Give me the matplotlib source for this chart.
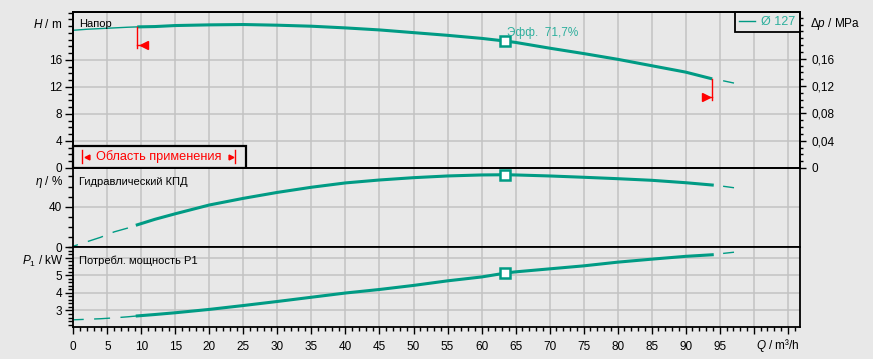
# Pump curve sheet: head / efficiency / power input over flow rate
import numpy as np
import matplotlib.pyplot as plt
from matplotlib.lines import Line2D
from matplotlib.patches import Rectangle

plt.rcParams['font.family'] = ['Liberation Sans', 'DejaVu Sans']
plt.rcParams['font.size'] = 8.5
plt.rcParams['mathtext.fontset'] = 'custom'
plt.rcParams['mathtext.rm'] = 'Liberation Sans'
plt.rcParams['mathtext.it'] = 'Liberation Sans:italic'

BG = '#e8e8e8'
TEAL = '#009b84'
TEAL_TXT = '#2eaf9d'
GRID = '#c3c3c3'

# --- data ---
# part below the application range (thin)
q_lo = [0, 2, 4, 6, 8, 9.4]
h_lo = [20.4, 20.55, 20.65, 20.75, 20.85, 20.9]
eta_lo = [0.8, 5.2, 9.6, 15.0, 18.8, 22.0]
p_lo = [2.47, 2.50, 2.53, 2.58, 2.64, 2.69]

# application range (thick)
q = [9.4, 12, 15, 20, 25, 30, 35, 40, 45, 50, 55, 60, 63.5, 65, 70, 75, 80, 85, 90, 93.9]
h = [20.9, 20.95, 21.1, 21.2, 21.25, 21.15, 21.0, 20.75, 20.45, 20.05,
     19.65, 19.2, 18.8, 18.6, 17.75, 16.95, 16.1, 15.15, 14.2, 13.2]
eta = [22.0, 27.5, 33.0, 41.7, 48.3, 54.2, 59.3, 63.6, 66.5, 68.8,
       70.5, 71.5, 71.7, 71.5, 70.5, 69.2, 67.8, 66.2, 63.8, 61.5]
p1 = [2.69, 2.77, 2.87, 3.06, 3.28, 3.51, 3.75, 3.99, 4.19, 4.42,
      4.68, 4.90, 5.12, 5.19, 5.36, 5.53, 5.74, 5.91, 6.07, 6.16]

# short piece past the end
q_ext = [95.6, 97.0]
h_ext = [12.9, 12.6]
eta_ext = [60.2, 58.9]
p_ext = [6.24, 6.30]

# duty point (best efficiency)
q_bep, h_bep, eta_bep, p_bep = 63.5, 18.8, 71.7, 5.12
q_min, q_max = 9.4, 93.9

W, H = 873, 359
def fx(x): return x / W
def fy(y): return 1 - y / H

fig = plt.figure(figsize=(W / 100, H / 100), dpi=100, facecolor=BG)
x0, x1 = 73.3, 800
ax1 = fig.add_axes([fx(x0), fy(168), fx(x1) - fx(x0), fy(11.7) - fy(168)])
ax2 = fig.add_axes([fx(x0), fy(247), fx(x1) - fx(x0), fy(168) - fy(247)])
ax3 = fig.add_axes([fx(x0), fy(326.5), fx(x1) - fx(x0), fy(247) - fy(326.5)])

for ax in (ax1, ax2, ax3):
    ax.set_facecolor(BG)
    ax.set_xlim(0, 106.8)
    ax.set_xticks(np.arange(0, 106, 5))
    ax.set_xticks(np.arange(0, 107, 1), minor=True)
    ax.grid(True, which='major', color=GRID, lw=1.1)
    ax.set_axisbelow(True)
    for s in ax.spines.values():
        s.set_color('black')
        s.set_linewidth(1.3)
    ax.tick_params(axis='y', which='major', direction='out', length=6, width=1, pad=1.9)
    ax.tick_params(axis='y', which='minor', direction='out', length=3.6, width=1)
    ax.tick_params(axis='y', right=False)

for ax in (ax1, ax2):
    ax.tick_params(axis='x', which='both', length=0, labelbottom=False)

ax3.tick_params(axis='x', which='major', direction='out', length=5, width=1, pad=5.5)
ax3.tick_params(axis='x', which='minor', direction='out', length=3.1, width=1)
ax3.set_xticklabels([str(v) if v <= 95 else '' for v in range(0, 106, 5)])

# head
ax1.set_ylim(0, 23.15)
ax1.set_yticks([0, 4, 8, 12, 16])
ax1.set_yticks(np.arange(0, 24, 1), minor=True)
ax1.plot(q_lo, h_lo, color=TEAL, lw=1.0)
ax1.plot(q, h, color=TEAL, lw=2.2, solid_capstyle='butt')
ax1.plot(q_ext, h_ext, color=TEAL, lw=1.0)
ax1.plot(q_bep, h_bep, 's', ms=6.5, mfc='white', mec=TEAL, mew=1.8)
ax1.text(q_bep + 0.2, 20.0, 'Эфф.  71,7%', color=TEAL_TXT, va='center', ha='left')

# application range markers
ax1.plot([q_min, q_min], [np.interp(q_min, q, h), 17.7], color='red', lw=1)
ax1.plot([q_min, q_min + 0.6], [18.2, 18.2], color='red', lw=1)
ax1.plot(q_min + 0.95, 18.2, '<', color='red', ms=6)
ax1.plot([q_max, q_max], [np.interp(q_max, q, h), 10.1], color='red', lw=1)
ax1.plot([q_max - 0.6, q_max], [10.5, 10.5], color='red', lw=1)
ax1.plot(q_max - 0.95, 10.5, '>', color='red', ms=6)

box = Rectangle((0, 0), 173 / 726.7, 22 / 156.3, transform=ax1.transAxes,
                facecolor=BG, edgecolor='black', lw=1.6, zorder=5, clip_on=False)
ax1.add_patch(box)
bx = lambda px: (px - x0) / 726.7
ax1.plot([bx(82), bx(82)], [0.03, 0.115], color='red', lw=1, transform=ax1.transAxes, zorder=6)
ax1.plot([bx(235), bx(235)], [0.03, 0.115], color='red', lw=1, transform=ax1.transAxes, zorder=6)
ax1.plot(bx(86.5), 0.072, '<', color='red', ms=3.5, transform=ax1.transAxes, zorder=6)
ax1.plot(bx(230.5), 0.072, '>', color='red', ms=3.5, transform=ax1.transAxes, zorder=6)
ax1.text(bx(159), 0.072, 'Область применения', color='red', ha='center', va='center',
         transform=ax1.transAxes, zorder=6, fontsize=9.2)

leg = ax1.legend([Line2D([], [], color=TEAL, lw=1)], ['Ø 127'], loc='upper right',
                 frameon=True, fancybox=False, edgecolor='black', facecolor=BG,
                 framealpha=1, borderaxespad=0, handlelength=1.3, handletextpad=0.5,
                 borderpad=0.35, labelcolor=TEAL_TXT, fontsize=9)
leg.get_frame().set_linewidth(1.3)

axr = ax1.twinx()
axr.set_ylim(0, 0.229)
axr.set_yticks([0, 0.04, 0.08, 0.12, 0.16])
axr.set_yticklabels(['0', '0,04', '0,08', '0,12', '0,16'])
axr.set_yticks(np.arange(0, 0.23, 0.01), minor=True)
axr.tick_params(axis='y', which='major', direction='out', length=4, width=1, pad=4)
axr.tick_params(axis='y', which='minor', direction='out', length=2.5, width=1)
for s in axr.spines.values():
    s.set_linewidth(1.3)

# efficiency
ax2.set_ylim(0, 78.4)
ax2.set_yticks([0, 40])
ax2.set_yticks(np.arange(0, 79, 10), minor=True)
ax2.plot(q_lo, eta_lo, color=TEAL, lw=1.0, linestyle=(8, (11.5, 7.5)))
ax2.plot(q, eta, color=TEAL, lw=2.2)
ax2.plot(q_ext, eta_ext, color=TEAL, lw=1.0)
ax2.plot(q_bep, eta_bep, 's', ms=6.5, mfc='white', mec=TEAL, mew=1.8, clip_on=False, zorder=5)

# power input
ax3.set_ylim(2.09, 6.6)
ax3.set_yticks([3, 4, 5, 6])
ax3.set_yticklabels(['3', '4', '5', ''])
ax3.set_yticks(np.arange(2.2, 6.61, 0.2), minor=True)
ax3.plot(q_lo, p_lo, color=TEAL, lw=1.0, linestyle=(4, (11.5, 7.5)))
ax3.plot(q, p1, color=TEAL, lw=2.2)
ax3.plot(q_ext, p_ext, color=TEAL, lw=1.0)
ax3.plot(q_bep, p_bep, 's', ms=6.5, mfc='white', mec=TEAL, mew=1.8)

# labels
fig.text(fx(62.5), fy(24), '$H$ / m', ha='right', va='center')
fig.text(fx(79), fy(24), 'Напор', ha='left', va='center', fontsize=8)
fig.text(fx(810), fy(24), r'$\mathit{\Delta p}$ / MPa', ha='left', va='center')
fig.text(fx(63), fy(182), r'$\eta$ / %', ha='right', va='center')
fig.text(fx(79), fy(182), 'Гидравлический КПД', ha='left', va='center', fontsize=8)
fig.text(fx(63), fy(261), '$P_1$ / kW', ha='right', va='center')
fig.text(fx(79), fy(261), 'Потребл. мощность P1', ha='left', va='center', fontsize=8)
fig.text(fx(800), fy(346), '$Q$ / m³/h', ha='right', va='center')

fig.savefig('out.png', dpi=100, facecolor=BG)
